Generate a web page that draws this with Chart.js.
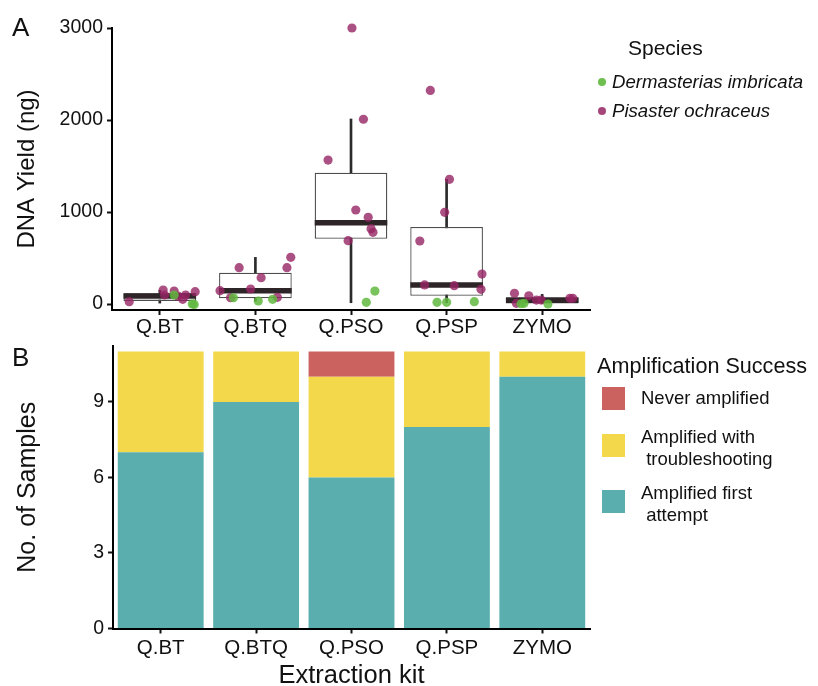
<!DOCTYPE html>
<html>
<head>
<meta charset="utf-8">
<script src="https://cdn.jsdelivr.net/npm/chart.js@4.4.1/dist/chart.umd.min.js"></script>
<style>
  body { margin: 0; background: #fff; font-family: "Liberation Sans", Arial, sans-serif; color: #111; }
  #wrap { position: relative; width: 818px; height: 686px; overflow: hidden; }
  canvas { position: absolute; left: 0; }
  .txt { position: absolute; white-space: pre; }
  .dot { position: absolute; width: 8px; height: 8px; border-radius: 50%; }
  .sw { position: absolute; width: 23px; height: 23px; }
</style>
</head>
<body>
<div id="wrap">
  <canvas id="chartYield" width="818" height="340" style="top:0"></canvas>
  <canvas id="chartAmp" width="818" height="346" style="top:340px"></canvas>

  <div class="txt" style="left:12px; top:14px; font-size:26px; line-height:26px;">A</div>
  <div class="txt" style="left:12px; top:344px; font-size:26px; line-height:26px;">B</div>

  <!-- species legend -->
  <div class="txt" style="left:628px; top:36px; font-size:21px; line-height:24px;">Species</div>
  <div class="dot" style="left:598px; top:78px; background:#6dbf4f;"></div>
  <div class="txt" style="left:612px; top:71px; font-size:18.6px; line-height:22px; font-style:italic;">Dermasterias imbricata</div>
  <div class="dot" style="left:598px; top:107px; background:#a5457a;"></div>
  <div class="txt" style="left:612px; top:100px; font-size:18.6px; line-height:22px; font-style:italic;">Pisaster ochraceus</div>

  <!-- amplification legend -->
  <div class="txt" style="left:597px; top:354px; font-size:21.6px; line-height:24px;">Amplification Success</div>
  <div class="sw" style="left:602px; top:387px; background:#cb625f;"></div>
  <div class="txt" style="left:641px; top:387px; font-size:18.5px; line-height:22px;">Never amplified</div>
  <div class="sw" style="left:602px; top:434px; background:#f3d84b;"></div>
  <div class="txt" style="left:641px; top:426px; font-size:18.5px; line-height:22.3px;">Amplified with
 troubleshooting</div>
  <div class="sw" style="left:602px; top:490px; background:#5aafae;"></div>
  <div class="txt" style="left:641px; top:482px; font-size:18.5px; line-height:22.3px;">Amplified first
 attempt</div>
</div>

<script>
// ---- data -----------------------------------------------------------
const kits = ["Q.BT", "Q.BTQ", "Q.PSO", "Q.PSP", "ZYMO"];

// panel A: box stats (ng)
const boxQ1 = [34, 62, 710, 90, 0];
const boxMedian = [87, 145, 884, 207, 40];
const boxQ3 = [118, 340, 1427, 837, 73];
const whiskerLow = [10, 30, 14, 14, 0];
const whiskerHigh = [150, 507, 2011, 1355, 105];
const yieldTicks = [0, 1000, 2000, 3000];

// panel A: samples, kit index + horizontal jitter + yield
const pisasterKit = [0, 0, 0, 0, 0, 0, 0, 0,  1, 1, 1, 1, 1, 1, 1, 1,  2, 2, 2, 2, 2, 2, 2, 2,  3, 3, 3, 3, 3, 3, 3, 3,  4, 4, 4, 4, 4, 4, 4];
const pisasterJitter = [-0.32, 0.035, 0.05, 0.15, 0.19, 0.24, 0.27, 0.37,
  -0.37, -0.26, -0.17, -0.05, 0.06, 0.23, 0.33, 0.37,
  0.01, 0.13, -0.24, 0.05, 0.18, 0.21, 0.23, -0.03,
  -0.17, 0.03, -0.02, -0.28, -0.23, 0.08, 0.37, 0.36,
  -0.29, -0.14, -0.27, -0.06, -0.01, 0.29, 0.32];
const pisasterYield = [25, 152, 98, 141, 87, 51, 98, 134,
  145, 68, 395, 163, 286, 73, 395, 507,
  3000, 2008, 1565, 1022, 942, 819, 779, 688,
  2322, 1355, 997, 685, 207, 199, 326, 160,
  116, 90, 8, 43, 43, 62, 62];

const dermasteriasKit = [0, 0, 0,  1, 1, 1,  2, 2,  3, 3, 3,  4, 4, 4];
const dermasteriasJitter = [0.15, 0.34, 0.36,  -0.23, 0.03, 0.18,  0.25, 0.16,  -0.10, 0.0, 0.29,  -0.19, 0.06, -0.22];
const dermasteriasYield = [98, 0, -4,  68, 33, 51,  141, 18,  18, 18, 25,  8, 0, 3];

// panel B: sample counts
const firstAttempt = [7, 9, 6, 8, 10];
const withTroubleshooting = [4, 2, 4, 3, 1];
const neverAmplified = [0, 0, 1, 0, 0];
const countTicks = [0, 3, 6, 9];

// ---- style ----------------------------------------------------------
const GREEN = "rgba(96,184,62,0.85)";
const PURPLE = "rgba(150,36,100,0.8)";
const TEAL = "#5aafae";
const YELLOW = "#f3d84b";
const RED = "#cb625f";

Chart.defaults.font.family = '"Liberation Sans", Arial, Helvetica, sans-serif';
Chart.defaults.color = "#111";

const el = (id) => document.getElementById(id);

const points = (kit, jit, val) => kit.map((k, i) => ({ x: k + jit[i], y: val[i] }));

const axisGrid = { drawOnChartArea: false, offset: false, tickLength: 5, tickWidth: 2, tickColor: "#111" };
const axisBorder = { display: true, color: "#000", width: 2 };

// fixed axis sizes so both panels line up with the reference
const fixWidth = (w) => (s) => { s.width = w; s.paddingTop = 0; s.paddingBottom = 0; };
const fixHeight = (h) => (s) => { s.height = h; };

// ---- panel A --------------------------------------------------------
new Chart(el("chartYield"), {
  data: {
    datasets: [
      {
        type: "scatter",
        label: "Dermasterias imbricata",
        data: points(dermasteriasKit, dermasteriasJitter, dermasteriasYield),
        pointBackgroundColor: GREEN,
        pointBorderWidth: 0,
        pointRadius: 4.6,
        clip: false,
        order: 0,
      },
      {
        type: "scatter",
        label: "Pisaster ochraceus",
        data: points(pisasterKit, pisasterJitter, pisasterYield),
        pointBackgroundColor: PURPLE,
        pointBorderWidth: 0,
        pointRadius: 4.6,
        clip: false,
        order: 0,
      },
      {
        // median bars
        type: "scatter",
        data: kits.map((k, i) => ({ x: i, y: boxMedian[i] })),
        pointStyle: "line",
        pointRadius: 36.3,
        pointBorderColor: "#2d2527",
        pointBorderWidth: 5.5,
        order: 1,
      },
      {
        // boxes
        type: "bar",
        data: kits.map((k, i) => ({ x: i, y: [boxQ1[i], boxQ3[i]] })),
        backgroundColor: "#fff",
        borderColor: "#4d4d4d",
        borderWidth: 1.3,
        borderSkipped: false,
        barPercentage: 0.76,
        categoryPercentage: 1,
        grouped: false,
        order: 2,
      },
      {
        // whiskers
        type: "bar",
        data: kits.map((k, i) => ({ x: i, y: [whiskerLow[i], whiskerHigh[i]] })),
        backgroundColor: "#2b2b2b",
        borderWidth: 0,
        barThickness: 2,
        grouped: false,
        order: 3,
      },
    ],
  },
  options: {
    responsive: false,
    animation: false,
    events: [],
    layout: { autoPadding: false, padding: { top: 28, right: 228, left: 0, bottom: 0 } },
    plugins: { legend: { display: false }, tooltip: { enabled: false } },
    scales: {
      x: {
        type: "linear",
        offset: false,
        min: -0.5,
        max: 4.5,
        afterBuildTicks: (s) => { s.ticks = kits.map((k, i) => ({ value: i })); },
        afterFit: fixHeight(30),
        ticks: { callback: (v) => kits[v], font: { size: 20.5 }, padding: 0, maxRotation: 0, autoSkip: false },
        grid: axisGrid,
        border: axisBorder,
      },
      y: {
        min: -65,
        max: 3000,
        afterBuildTicks: (s) => { s.ticks = yieldTicks.map((v) => ({ value: v })); },
        afterFit: fixWidth(112),
        ticks: { callback: (v) => String(v), font: { size: 19.5 }, padding: 4 },
        grid: axisGrid,
        border: axisBorder,
        title: { display: true, text: "DNA Yield (ng)", font: { size: 24 }, padding: { top: 13, bottom: 0 } },
      },
    },
  },
});

// ---- panel B --------------------------------------------------------
const barOpts = { barPercentage: 0.9, categoryPercentage: 1, borderWidth: 0 };

new Chart(el("chartAmp"), {
  type: "bar",
  data: {
    labels: kits,
    datasets: [
      { label: "Amplified first attempt", data: firstAttempt, backgroundColor: TEAL, ...barOpts },
      { label: "Amplified with troubleshooting", data: withTroubleshooting, backgroundColor: YELLOW, ...barOpts },
      { label: "Never amplified", data: neverAmplified, backgroundColor: RED, ...barOpts },
    ],
  },
  options: {
    responsive: false,
    animation: false,
    events: [],
    layout: { autoPadding: false, padding: { top: 6, right: 228, left: 0, bottom: 0 } },
    plugins: { legend: { display: false }, tooltip: { enabled: false } },
    scales: {
      x: {
        stacked: true,
        afterFit: fixHeight(57.5),
        ticks: { font: { size: 20.5 }, padding: 3, maxRotation: 0 },
        grid: axisGrid,
        border: axisBorder,
        title: { display: true, text: "Extraction kit", font: { size: 25.5, lineHeight: 0.8 }, padding: { top: 0, bottom: 0 } },
      },
      y: {
        stacked: true,
        min: 0,
        max: 11.22,
        afterBuildTicks: (s) => { s.ticks = countTicks.map((v) => ({ value: v })); },
        afterFit: fixWidth(113),
        ticks: { font: { size: 19.5 }, padding: 4 },
        grid: axisGrid,
        border: axisBorder,
        title: { display: true, text: "No. of Samples", font: { size: 25 }, padding: { top: 13, bottom: 0 } },
      },
    },
  },
});
</script>
</body>
</html>
